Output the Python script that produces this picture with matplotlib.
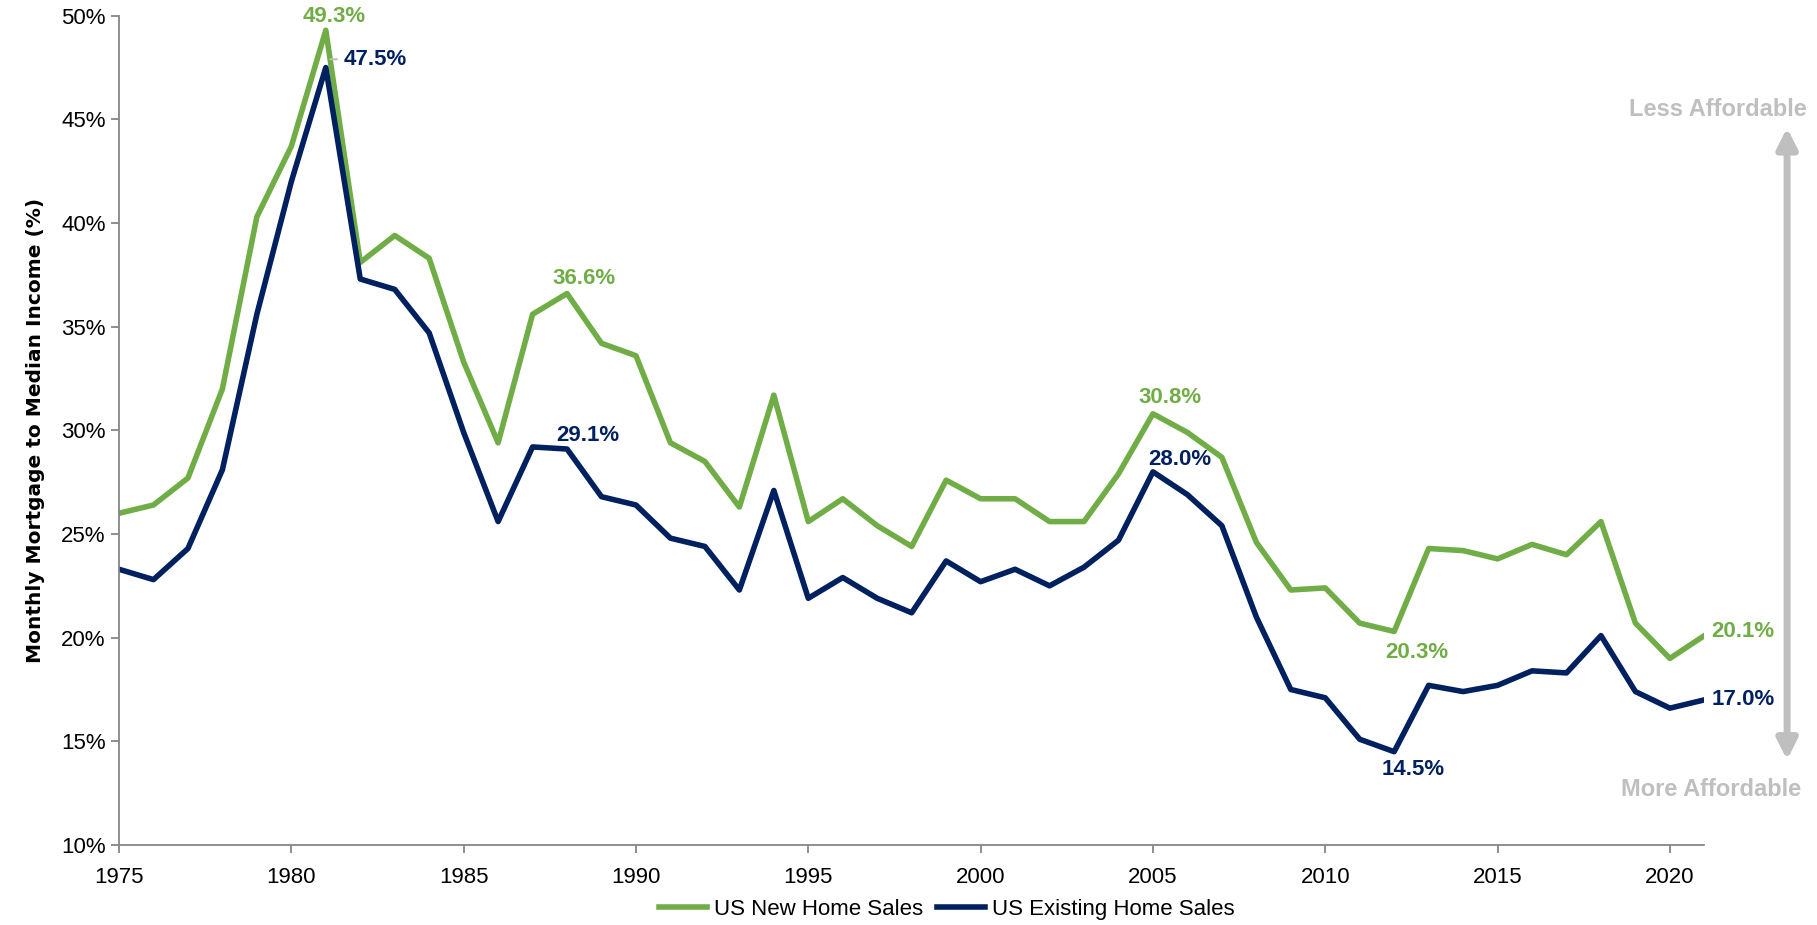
import numpy as np
from matplotlib import pyplot as plt

years = list(range(1975, 2022))

new_home = [26.0, 26.4, 27.7, 32.0, 40.3, 43.7, 49.3, 38.1, 39.4, 38.3,
            33.3, 29.4, 35.6, 36.6, 34.2, 33.6, 29.4, 28.5, 26.3, 31.7,
            25.6, 26.7, 25.4, 24.4, 27.6, 26.7, 26.7, 25.6, 25.6, 27.9,
            30.8, 29.9, 28.7, 24.6, 22.3, 22.4, 20.7, 20.3, 24.3, 24.2,
            23.8, 24.5, 24.0, 25.6, 20.7, 19.0, 20.1]

existing_home = [23.3, 22.8, 24.3, 28.1, 35.6, 42.0, 47.5, 37.3, 36.8, 34.7,
                 29.9, 25.6, 29.2, 29.1, 26.8, 26.4, 24.8, 24.4, 22.3, 27.1,
                 21.9, 22.9, 21.9, 21.2, 23.7, 22.7, 23.3, 22.5, 23.4, 24.7,
                 28.0, 26.9, 25.4, 21.0, 17.5, 17.1, 15.1, 14.5, 17.7, 17.4,
                 17.7, 18.4, 18.3, 20.1, 17.4, 16.6, 17.0]

# (year, offset in points, ha)
new_labels = [(1981, (6, 10), 'center'), (1988, (12, 11), 'center'),
              (2005, (12, 12), 'center'), (2012, (16, -15), 'center'),
              (2021, (5, 3), 'left')]
existing_labels = [(1981, (13, 6), 'left'), (1988, (15, 10), 'center'),
                   (2005, (19, 9), 'center'), (2012, (14, -13), 'center'),
                   (2021, (5, 0), 'left')]

green = '#70AD47'
navy = '#002060'
grey = '#BFBFBF'
axis_grey = '#868686'

plt.rcParams['font.family'] = ['Liberation Sans', 'DejaVu Sans']

fig = plt.figure(figsize=(18.17, 9.25), dpi=100)
ax = fig.add_axes([0.0655, 0.0865, 0.8725, 0.8965])

ax.plot(years, new_home, color=green, lw=4, label='US New Home Sales')
ax.plot(years, existing_home, color=navy, lw=4, label='US Existing Home Sales')

ax.set_xlim(1975, 2021)
ax.set_ylim(10, 50)
ax.set_xticks(range(1975, 2021, 5))
ax.set_yticks(range(10, 51, 5))
ax.set_yticklabels([f'{v}%' for v in range(10, 51, 5)])
ax.tick_params(labelsize=16, color=axis_grey, length=6, width=1.3)
ax.tick_params(axis='x', pad=10)
for s in ['top', 'right']:
    ax.spines[s].set_visible(False)
for s in ['left', 'bottom']:
    ax.spines[s].set_color(axis_grey)
    ax.spines[s].set_linewidth(1.3)

ax.set_ylabel('Monthly Mortgage to Median Income (%)', fontsize=14.5, fontweight='bold',
              family='DejaVu Sans', labelpad=12)

for yr, off, ha in new_labels:
    v = new_home[years.index(yr)]
    ax.annotate(f'{v:.1f}%', (yr, v), xytext=off, textcoords='offset points',
                ha=ha, va='center', color=green, fontsize=16, fontweight='bold')
for yr, off, ha in existing_labels:
    v = existing_home[years.index(yr)]
    ax.annotate(f'{v:.1f}%', (yr, v), xytext=off, textcoords='offset points',
                ha=ha, va='center', color=navy, fontsize=16, fontweight='bold')

# small leader line for the 1981 existing-home label
ax.annotate('', (1981.05, 47.9), xytext=(1981.4, 47.9),
            arrowprops=dict(arrowstyle='-', color=grey, lw=1.5))

# affordability arrow on the right
ax.annotate('', xy=(2023.4, 44.6), xytext=(2023.4, 14.1), annotation_clip=False,
            arrowprops=dict(arrowstyle='<|-|>', color=grey, lw=5,
                            mutation_scale=30, shrinkA=0, shrinkB=0))
ax.text(2021.4, 45.5, 'Less Affordable', color=grey, fontsize=17, fontweight='bold',
        ha='center', va='center', clip_on=False)
ax.text(2021.2, 12.7, 'More Affordable', color=grey, fontsize=17, fontweight='bold',
        ha='center', va='center', clip_on=False)

fig.legend(loc='center', bbox_to_anchor=(0.521, 0.017), ncol=2, frameon=False,
           fontsize=16, handlelength=2.2, columnspacing=0.6, handletextpad=0.3)

plt.savefig('out.png', dpi=100)
